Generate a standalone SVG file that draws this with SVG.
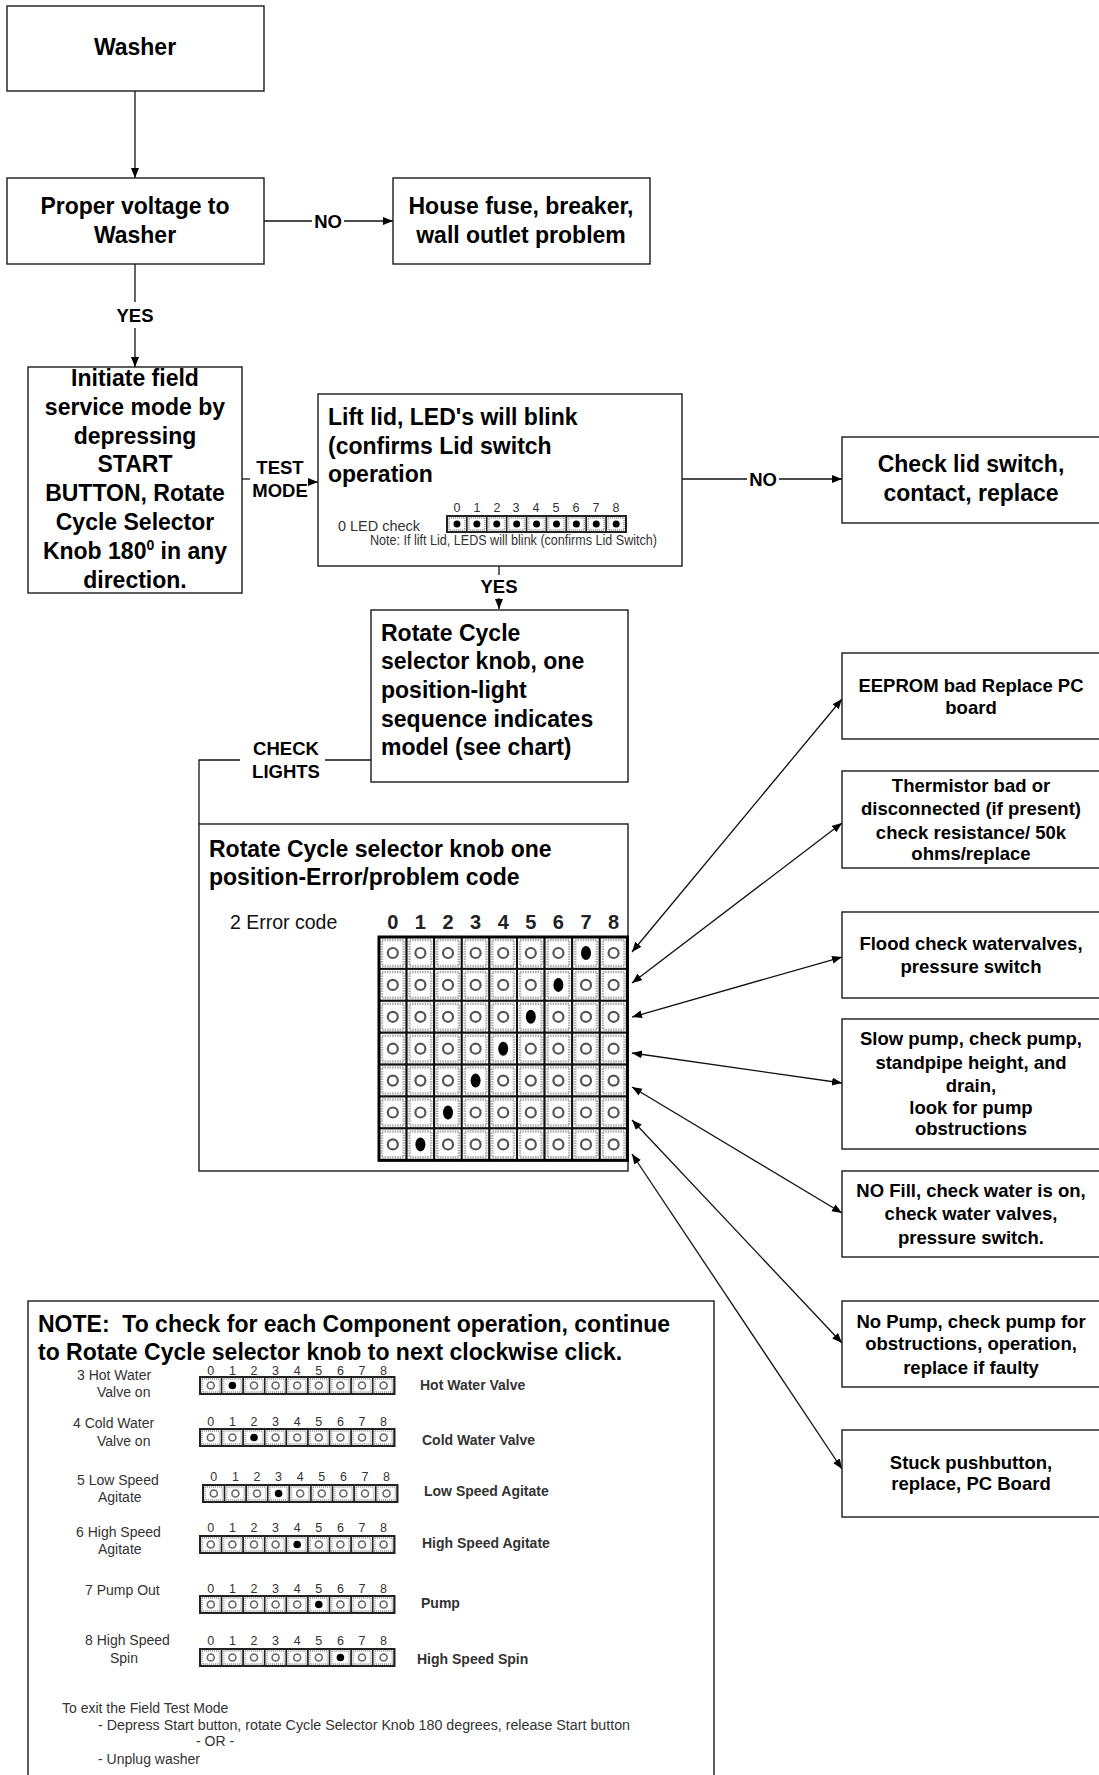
<svg xmlns="http://www.w3.org/2000/svg" width="1099" height="1775" viewBox="0 0 1099 1775" font-family="'Liberation Sans', Arial, sans-serif">
<style>
.box{fill:#fff;stroke:#1a1a1a;stroke-width:1.4}
.t{font-weight:bold;font-size:23px;fill:#000}
.c{text-anchor:middle}
.lb{font-weight:bold;font-size:18.5px;text-anchor:middle;fill:#000}
.rt{font-weight:bold;font-size:18.5px;text-anchor:middle;fill:#000}
.ln{stroke:#111;stroke-width:1.3;fill:none}
.sm{font-size:14px;fill:#333}
.dg{font-size:12.5px;fill:#333;text-anchor:middle}
.gd{font-size:20px;font-weight:bold;fill:#222;text-anchor:middle}
.cl{font-size:14px;fill:#333}
.cr{font-size:14px;font-weight:bold;fill:#333}
.pre{white-space:pre}
</style>
<defs>
<marker id="ah" markerUnits="userSpaceOnUse" markerWidth="12" markerHeight="10" refX="10" refY="4" orient="auto-start-reverse"><path d="M0,0 L10,4 L0,8 z" fill="#000"/></marker>
<g id="gO"><rect width="27.6" height="31.9" fill="#fff" stroke="#111" stroke-width="2"/><rect x="3" y="3" width="21.6" height="25.9" fill="none" stroke="#b0b0b0" stroke-width="2.5" stroke-dasharray="1.5 1"/><circle cx="13.8" cy="16" r="5" fill="#fff" stroke="#555" stroke-width="2.2"/></g>
<g id="gX"><rect width="27.6" height="31.9" fill="#fff" stroke="#111" stroke-width="2"/><rect x="3" y="3" width="21.6" height="25.9" fill="none" stroke="#b0b0b0" stroke-width="2.5" stroke-dasharray="1.5 1"/><ellipse cx="13.8" cy="16" rx="5" ry="7" fill="#000"/></g>
<g id="lX"><rect width="19.9" height="16" fill="#fff" stroke="#222" stroke-width="1.5"/><rect x="2" y="2" width="15.9" height="12" fill="none" stroke="#aaa" stroke-width="2" stroke-dasharray="1 1"/><circle cx="9.95" cy="8" r="3.5" fill="#000"/></g>
<g id="nO"><rect width="21.6" height="17" fill="#fff" stroke="#222" stroke-width="1.5"/><rect x="2" y="2" width="17.6" height="13" fill="none" stroke="#aaa" stroke-width="2" stroke-dasharray="1 1"/><circle cx="10.8" cy="8.5" r="3.5" fill="#fff" stroke="#666" stroke-width="1.6"/></g>
<g id="nX"><rect width="21.6" height="17" fill="#fff" stroke="#222" stroke-width="1.5"/><rect x="2" y="2" width="17.6" height="13" fill="none" stroke="#aaa" stroke-width="2" stroke-dasharray="1 1"/><circle cx="10.8" cy="8.5" r="3.8" fill="#000"/></g>
</defs>
<rect width="1099" height="1775" fill="#fff"/>

<g id="connectors">
<line class="ln" x1="135" y1="91" x2="135" y2="178" marker-end="url(#ah)"/>
<line class="ln" x1="264" y1="221" x2="312" y2="221"/>
<line class="ln" x1="344" y1="221" x2="393" y2="221" marker-end="url(#ah)"/>
<text class="lb" x="328" y="228">NO</text>
<line class="ln" x1="135" y1="264" x2="135" y2="302"/>
<text class="lb" x="135" y="322">YES</text>
<line class="ln" x1="135" y1="328" x2="135" y2="367" marker-end="url(#ah)"/>
<line class="ln" x1="242" y1="479" x2="250" y2="479"/>
<text class="lb" x="280" y="474">TEST</text>
<text class="lb" x="280" y="497">MODE</text>
<line class="ln" x1="309" y1="482" x2="318" y2="482" marker-end="url(#ah)"/>
<line class="ln" x1="682" y1="479" x2="747" y2="479"/>
<text class="lb" x="763" y="486">NO</text>
<line class="ln" x1="779" y1="479" x2="842" y2="479" marker-end="url(#ah)"/>
<line class="ln" x1="499" y1="566" x2="499" y2="575"/>
<text class="lb" x="499" y="593">YES</text>
<line class="ln" x1="499" y1="598" x2="499" y2="609" marker-end="url(#ah)"/>
<line class="ln" x1="371" y1="760" x2="325" y2="760"/>
<text class="lb" x="286" y="755">CHECK</text>
<text class="lb" x="286" y="778">LIGHTS</text>
<path class="ln" d="M240,760 H199 V824"/>
<line class="ln" x1="632" y1="952" x2="842" y2="699" marker-start="url(#ah)" marker-end="url(#ah)"/>
<line class="ln" x1="632" y1="983" x2="842" y2="823" marker-start="url(#ah)" marker-end="url(#ah)"/>
<line class="ln" x1="632" y1="1017" x2="842" y2="957" marker-start="url(#ah)" marker-end="url(#ah)"/>
<line class="ln" x1="632" y1="1053" x2="842" y2="1083" marker-start="url(#ah)" marker-end="url(#ah)"/>
<line class="ln" x1="632" y1="1087" x2="842" y2="1213" marker-start="url(#ah)" marker-end="url(#ah)"/>
<line class="ln" x1="632" y1="1120" x2="842" y2="1343" marker-start="url(#ah)" marker-end="url(#ah)"/>
<line class="ln" x1="632" y1="1154" x2="842" y2="1469" marker-start="url(#ah)" marker-end="url(#ah)"/>
</g>

<g id="washer">
<rect class="box" x="7" y="6" width="257" height="85"/>
<text class="t c" x="135" y="55">Washer</text>
</g>
<g id="voltage">
<rect class="box" x="7" y="178" width="257" height="86"/>
<text class="t c" x="135" y="214">Proper voltage to</text>
<text class="t c" x="135" y="243">Washer</text>
</g>
<g id="house">
<rect class="box" x="393" y="178" width="257" height="86"/>
<text class="t c" x="521" y="214">House fuse, breaker,</text>
<text class="t c" x="521" y="243">wall outlet problem</text>
</g>
<g id="initiate">
<rect class="box" x="28" y="367" width="214" height="226"/>
<text class="t c" x="135" y="386">Initiate field</text>
<text class="t c" x="135" y="415">service mode by</text>
<text class="t c" x="135" y="444">depressing</text>
<text class="t c" x="135" y="472">START</text>
<text class="t c" x="135" y="501">BUTTON, Rotate</text>
<text class="t c" x="135" y="530">Cycle Selector</text>
<text class="t c" x="135" y="559">Knob 180<tspan font-size="14" dy="-9">0</tspan><tspan dy="9"> in any</tspan></text>
<text class="t c" x="135" y="588">direction.</text>
</g>
<g id="liftlid">
<rect class="box" x="318" y="394" width="364" height="172"/>
<text class="t" x="328" y="425">Lift lid, LED's will blink</text>
<text class="t" x="328" y="454">(confirms Lid switch</text>
<text class="t" x="328" y="482">operation</text>
<text class="sm" x="338" y="531" textLength="82" lengthAdjust="spacingAndGlyphs">0 LED check</text>
<g class="dg" font-size="12">
<text x="457" y="512">0</text><text x="477" y="512">1</text><text x="497" y="512">2</text><text x="516" y="512">3</text><text x="536" y="512">4</text><text x="556" y="512">5</text><text x="576" y="512">6</text><text x="596" y="512">7</text><text x="616" y="512">8</text>
</g>
<use href="#lX" x="447" y="516"/><use href="#lX" x="466.9" y="516"/><use href="#lX" x="486.8" y="516"/><use href="#lX" x="506.7" y="516"/><use href="#lX" x="526.6" y="516"/><use href="#lX" x="546.5" y="516"/><use href="#lX" x="566.4" y="516"/><use href="#lX" x="586.3" y="516"/><use href="#lX" x="606.2" y="516"/>
<rect x="447" y="516" width="179" height="16" fill="none" stroke="#222" stroke-width="2"/>
<text class="sm" x="370" y="545" font-size="13" textLength="287" lengthAdjust="spacingAndGlyphs">Note: If lift Lid, LEDS will blink (confirms Lid Switch)</text>
</g>
<g id="checklid">
<rect class="box" x="842" y="437" width="262" height="86"/>
<text class="t c" x="971" y="472">Check lid switch,</text>
<text class="t c" x="971" y="501">contact, replace</text>
</g>
<g id="rotate">
<rect class="box" x="371" y="610" width="257" height="172"/>
<text class="t" x="381" y="641">Rotate Cycle</text>
<text class="t" x="381" y="669">selector knob, one</text>
<text class="t" x="381" y="698">position-light</text>
<text class="t" x="381" y="727">sequence indicates</text>
<text class="t" x="381" y="755">model (see chart)</text>
</g>
<g id="errorcode">
<rect class="box" x="199" y="824" width="429" height="347"/>
<text class="t" x="209" y="857" font-size="24">Rotate Cycle selector knob one</text>
<text class="t" x="209" y="885" font-size="24">position-Error/problem code</text>
<text x="230" y="929" font-size="19.5" fill="#111">2 Error code</text>
<g class="gd">
<text x="392.8" y="929">0</text><text x="420.4" y="929">1</text><text x="448" y="929">2</text><text x="475.6" y="929">3</text><text x="503.2" y="929">4</text><text x="530.8" y="929">5</text><text x="558.4" y="929">6</text><text x="586" y="929">7</text><text x="613.6" y="929">8</text>
</g>
<g>
<use href="#gO" x="379" y="937"/><use href="#gO" x="406.6" y="937"/><use href="#gO" x="434.2" y="937"/><use href="#gO" x="461.8" y="937"/><use href="#gO" x="489.4" y="937"/><use href="#gO" x="517" y="937"/><use href="#gO" x="544.6" y="937"/><use href="#gX" x="572.2" y="937"/><use href="#gO" x="599.8" y="937"/>
<use href="#gO" x="379" y="968.9"/><use href="#gO" x="406.6" y="968.9"/><use href="#gO" x="434.2" y="968.9"/><use href="#gO" x="461.8" y="968.9"/><use href="#gO" x="489.4" y="968.9"/><use href="#gO" x="517" y="968.9"/><use href="#gX" x="544.6" y="968.9"/><use href="#gO" x="572.2" y="968.9"/><use href="#gO" x="599.8" y="968.9"/>
<use href="#gO" x="379" y="1000.8"/><use href="#gO" x="406.6" y="1000.8"/><use href="#gO" x="434.2" y="1000.8"/><use href="#gO" x="461.8" y="1000.8"/><use href="#gO" x="489.4" y="1000.8"/><use href="#gX" x="517" y="1000.8"/><use href="#gO" x="544.6" y="1000.8"/><use href="#gO" x="572.2" y="1000.8"/><use href="#gO" x="599.8" y="1000.8"/>
<use href="#gO" x="379" y="1032.7"/><use href="#gO" x="406.6" y="1032.7"/><use href="#gO" x="434.2" y="1032.7"/><use href="#gO" x="461.8" y="1032.7"/><use href="#gX" x="489.4" y="1032.7"/><use href="#gO" x="517" y="1032.7"/><use href="#gO" x="544.6" y="1032.7"/><use href="#gO" x="572.2" y="1032.7"/><use href="#gO" x="599.8" y="1032.7"/>
<use href="#gO" x="379" y="1064.6"/><use href="#gO" x="406.6" y="1064.6"/><use href="#gO" x="434.2" y="1064.6"/><use href="#gX" x="461.8" y="1064.6"/><use href="#gO" x="489.4" y="1064.6"/><use href="#gO" x="517" y="1064.6"/><use href="#gO" x="544.6" y="1064.6"/><use href="#gO" x="572.2" y="1064.6"/><use href="#gO" x="599.8" y="1064.6"/>
<use href="#gO" x="379" y="1096.5"/><use href="#gO" x="406.6" y="1096.5"/><use href="#gX" x="434.2" y="1096.5"/><use href="#gO" x="461.8" y="1096.5"/><use href="#gO" x="489.4" y="1096.5"/><use href="#gO" x="517" y="1096.5"/><use href="#gO" x="544.6" y="1096.5"/><use href="#gO" x="572.2" y="1096.5"/><use href="#gO" x="599.8" y="1096.5"/>
<use href="#gO" x="379" y="1128.4"/><use href="#gX" x="406.6" y="1128.4"/><use href="#gO" x="434.2" y="1128.4"/><use href="#gO" x="461.8" y="1128.4"/><use href="#gO" x="489.4" y="1128.4"/><use href="#gO" x="517" y="1128.4"/><use href="#gO" x="544.6" y="1128.4"/><use href="#gO" x="572.2" y="1128.4"/><use href="#gO" x="599.8" y="1128.4"/>
<rect x="379" y="937" width="248.4" height="223.3" fill="none" stroke="#000" stroke-width="3"/>
</g>
</g>

<g id="eeprom">
<rect class="box" x="842" y="653" width="262" height="86"/>
<text class="rt" x="971" y="692">EEPROM bad Replace PC</text>
<text class="rt" x="971" y="714">board</text>
</g>
<g id="thermistor">
<rect class="box" x="842" y="771" width="262" height="97"/>
<text class="rt" x="971" y="792">Thermistor bad or</text>
<text class="rt" x="971" y="815">disconnected (if present)</text>
<text class="rt" x="971" y="839">check resistance/ 50k</text>
<text class="rt" x="971" y="860">ohms/replace</text>
</g>
<g id="flood">
<rect class="box" x="842" y="912" width="262" height="86"/>
<text class="rt" x="971" y="950">Flood check watervalves,</text>
<text class="rt" x="971" y="973">pressure switch</text>
</g>
<g id="slowpump">
<rect class="box" x="842" y="1019" width="262" height="130"/>
<text class="rt" x="971" y="1045">Slow pump, check pump,</text>
<text class="rt" x="971" y="1069">standpipe height, and</text>
<text class="rt" x="971" y="1092">drain,</text>
<text class="rt" x="971" y="1114">look for pump</text>
<text class="rt" x="971" y="1135">obstructions</text>
</g>
<g id="nofill">
<rect class="box" x="842" y="1171" width="262" height="86"/>
<text class="rt" x="971" y="1197">NO Fill, check water is on,</text>
<text class="rt" x="971" y="1220">check water valves,</text>
<text class="rt" x="971" y="1244">pressure switch.</text>
</g>
<g id="nopump">
<rect class="box" x="842" y="1301" width="262" height="86"/>
<text class="rt" x="971" y="1328">No Pump, check pump for</text>
<text class="rt" x="971" y="1350">obstructions, operation,</text>
<text class="rt" x="971" y="1374">replace if faulty</text>
</g>
<g id="stuck">
<rect class="box" x="842" y="1430" width="262" height="87"/>
<text class="rt" x="971" y="1469">Stuck pushbutton,</text>
<text class="rt" x="971" y="1490">replace, PC Board</text>
</g>

<g id="note">
<rect class="box" x="28" y="1301" width="686" height="490"/>
<text class="t pre" x="38" y="1332" font-size="24">NOTE:  To check for each Component operation, continue</text>
<text class="t" x="38" y="1360" font-size="24">to Rotate Cycle selector knob to next clockwise click.</text>

<text class="cl" x="77" y="1380">3 Hot Water</text><text class="cl" x="97" y="1397">Valve on</text>
<g class="dg"><text x="210.8" y="1375">0</text><text x="232.4" y="1375">1</text><text x="254" y="1375">2</text><text x="275.6" y="1375">3</text><text x="297.2" y="1375">4</text><text x="318.8" y="1375">5</text><text x="340.4" y="1375">6</text><text x="362" y="1375">7</text><text x="383.6" y="1375">8</text></g>
<use href="#nO" x="200" y="1377"/><use href="#nX" x="221.6" y="1377"/><use href="#nO" x="243.2" y="1377"/><use href="#nO" x="264.8" y="1377"/><use href="#nO" x="286.4" y="1377"/><use href="#nO" x="308" y="1377"/><use href="#nO" x="329.6" y="1377"/><use href="#nO" x="351.2" y="1377"/><use href="#nO" x="372.8" y="1377"/>
<rect x="200" y="1377" width="194.4" height="17" fill="none" stroke="#222" stroke-width="2"/>
<text class="cr" x="420" y="1390">Hot Water Valve</text>

<text class="cl" x="73" y="1428">4 Cold Water</text><text class="cl" x="97" y="1446">Valve on</text>
<g class="dg"><text x="210.8" y="1426">0</text><text x="232.4" y="1426">1</text><text x="254" y="1426">2</text><text x="275.6" y="1426">3</text><text x="297.2" y="1426">4</text><text x="318.8" y="1426">5</text><text x="340.4" y="1426">6</text><text x="362" y="1426">7</text><text x="383.6" y="1426">8</text></g>
<use href="#nO" x="200" y="1429"/><use href="#nO" x="221.6" y="1429"/><use href="#nX" x="243.2" y="1429"/><use href="#nO" x="264.8" y="1429"/><use href="#nO" x="286.4" y="1429"/><use href="#nO" x="308" y="1429"/><use href="#nO" x="329.6" y="1429"/><use href="#nO" x="351.2" y="1429"/><use href="#nO" x="372.8" y="1429"/>
<rect x="200" y="1429" width="194.4" height="17" fill="none" stroke="#222" stroke-width="2"/>
<text class="cr" x="422" y="1445">Cold Water Valve</text>

<text class="cl" x="77" y="1485">5 Low Speed</text><text class="cl" x="98" y="1502">Agitate</text>
<g class="dg"><text x="213.8" y="1481">0</text><text x="235.4" y="1481">1</text><text x="257" y="1481">2</text><text x="278.6" y="1481">3</text><text x="300.2" y="1481">4</text><text x="321.8" y="1481">5</text><text x="343.4" y="1481">6</text><text x="365" y="1481">7</text><text x="386.6" y="1481">8</text></g>
<use href="#nO" x="203" y="1485"/><use href="#nO" x="224.6" y="1485"/><use href="#nO" x="246.2" y="1485"/><use href="#nX" x="267.8" y="1485"/><use href="#nO" x="289.4" y="1485"/><use href="#nO" x="311" y="1485"/><use href="#nO" x="332.6" y="1485"/><use href="#nO" x="354.2" y="1485"/><use href="#nO" x="375.8" y="1485"/>
<rect x="203" y="1485" width="194.4" height="17" fill="none" stroke="#222" stroke-width="2"/>
<text class="cr" x="424" y="1496">Low Speed Agitate</text>

<text class="cl" x="76" y="1537">6 High Speed</text><text class="cl" x="98" y="1554">Agitate</text>
<g class="dg"><text x="210.8" y="1532">0</text><text x="232.4" y="1532">1</text><text x="254" y="1532">2</text><text x="275.6" y="1532">3</text><text x="297.2" y="1532">4</text><text x="318.8" y="1532">5</text><text x="340.4" y="1532">6</text><text x="362" y="1532">7</text><text x="383.6" y="1532">8</text></g>
<use href="#nO" x="200" y="1536"/><use href="#nO" x="221.6" y="1536"/><use href="#nO" x="243.2" y="1536"/><use href="#nO" x="264.8" y="1536"/><use href="#nX" x="286.4" y="1536"/><use href="#nO" x="308" y="1536"/><use href="#nO" x="329.6" y="1536"/><use href="#nO" x="351.2" y="1536"/><use href="#nO" x="372.8" y="1536"/>
<rect x="200" y="1536" width="194.4" height="17" fill="none" stroke="#222" stroke-width="2"/>
<text class="cr" x="422" y="1548">High Speed Agitate</text>

<text class="cl" x="85" y="1595">7 Pump Out</text>
<g class="dg"><text x="210.8" y="1593">0</text><text x="232.4" y="1593">1</text><text x="254" y="1593">2</text><text x="275.6" y="1593">3</text><text x="297.2" y="1593">4</text><text x="318.8" y="1593">5</text><text x="340.4" y="1593">6</text><text x="362" y="1593">7</text><text x="383.6" y="1593">8</text></g>
<use href="#nO" x="200" y="1596"/><use href="#nO" x="221.6" y="1596"/><use href="#nO" x="243.2" y="1596"/><use href="#nO" x="264.8" y="1596"/><use href="#nO" x="286.4" y="1596"/><use href="#nX" x="308" y="1596"/><use href="#nO" x="329.6" y="1596"/><use href="#nO" x="351.2" y="1596"/><use href="#nO" x="372.8" y="1596"/>
<rect x="200" y="1596" width="194.4" height="17" fill="none" stroke="#222" stroke-width="2"/>
<text class="cr" x="421" y="1608">Pump</text>

<text class="cl" x="85" y="1645">8 High Speed</text><text class="cl" x="110" y="1663">Spin</text>
<g class="dg"><text x="210.8" y="1645">0</text><text x="232.4" y="1645">1</text><text x="254" y="1645">2</text><text x="275.6" y="1645">3</text><text x="297.2" y="1645">4</text><text x="318.8" y="1645">5</text><text x="340.4" y="1645">6</text><text x="362" y="1645">7</text><text x="383.6" y="1645">8</text></g>
<use href="#nO" x="200" y="1649"/><use href="#nO" x="221.6" y="1649"/><use href="#nO" x="243.2" y="1649"/><use href="#nO" x="264.8" y="1649"/><use href="#nO" x="286.4" y="1649"/><use href="#nO" x="308" y="1649"/><use href="#nX" x="329.6" y="1649"/><use href="#nO" x="351.2" y="1649"/><use href="#nO" x="372.8" y="1649"/>
<rect x="200" y="1649" width="194.4" height="17" fill="none" stroke="#222" stroke-width="2"/>
<text class="cr" x="417" y="1664">High Speed Spin</text>

<text class="sm" x="62" y="1713">To exit the Field Test Mode</text>
<text class="sm" x="98" y="1730" textLength="532" lengthAdjust="spacingAndGlyphs">- Depress Start button, rotate Cycle Selector Knob 180 degrees, release Start button</text>
<text class="sm c" x="215" y="1746">- OR -</text>
<text class="sm" x="98" y="1764">- Unplug washer</text>
</g>
</svg>
